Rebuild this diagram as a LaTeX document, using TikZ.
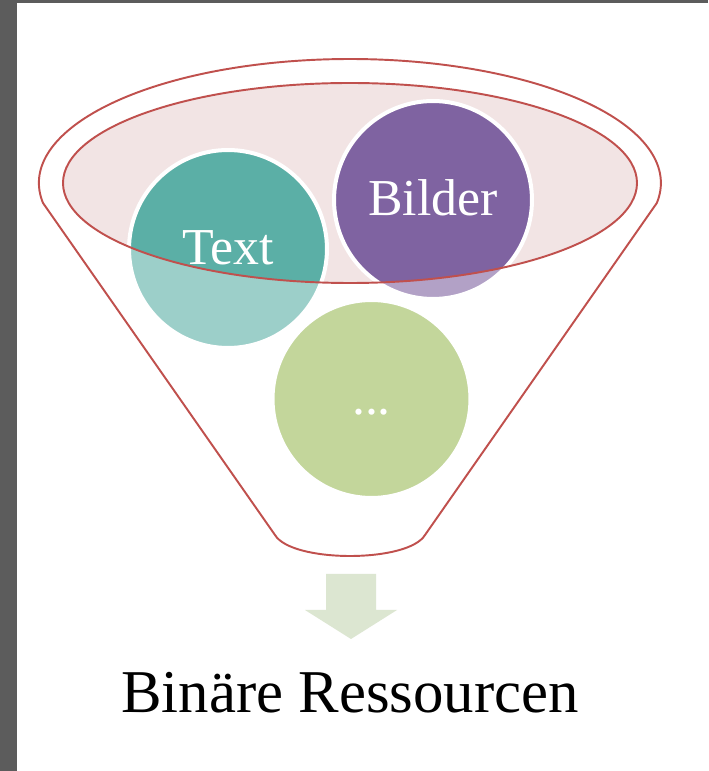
\documentclass[tikz,border=0pt]{standalone}
\usepackage{fontspec}
\setmainfont{Liberation Serif}
\usepackage{tikz}

\definecolor{funnelred}{HTML}{C0504D}
\definecolor{funnelpink}{HTML}{F2E4E4}
\definecolor{textteal}{HTML}{5BAFA6}
\definecolor{bilderpurple}{HTML}{7F63A1}
\definecolor{moregreen}{HTML}{9BBB59}
\definecolor{arrowgreen}{HTML}{DCE6D1}
\definecolor{framegray}{HTML}{5C5C5C}

\begin{document}
\begin{tikzpicture}[x=0.02cm,y=0.02cm,
  bubble/.style={circle,draw=white,line width=0.08cm,minimum size=3.96cm,inner sep=0pt,
    text=white,font=\fontsize{29.5}{35}\selectfont,text height=18pt,text depth=0pt},
  rim/.style={draw=funnelred,line width=1.1pt}]
\fill[framegray] (0,0) rectangle (708,771);
\fill[white] (17,0) rectangle (708,768);
\fill[funnelpink] (350,588) ellipse [x radius=287,y radius=100];
\node[bubble,fill=textteal] (text) at (228,522) {Text};
\node[bubble,fill=bilderpurple] (bilder) at (433,571) {Bilder};
\node[bubble,fill=moregreen] (more) at (371.5,372) {...};
% funnel body lightens whatever lies below the top opening
\path[rim,fill=white,fill opacity=0.4,even odd rule]
  (43,568) arc[start angle=189.28,end angle=-9.28,x radius=311,y radius=124]
  -- (425,236) .. controls (408,208) and (292,208) .. (275,236) -- cycle
  (350,588) ellipse [x radius=287,y radius=100];
\fill[arrowgreen] (326,197) -- (376,197) -- (376,161) -- (397,161) -- (351,132)
  -- (305,161) -- (326,161) -- cycle;
\node[anchor=base,font=\fontsize{34.6}{40}\selectfont] (result) at (350,58) {Binäre Ressourcen};
\end{tikzpicture}
\end{document}
